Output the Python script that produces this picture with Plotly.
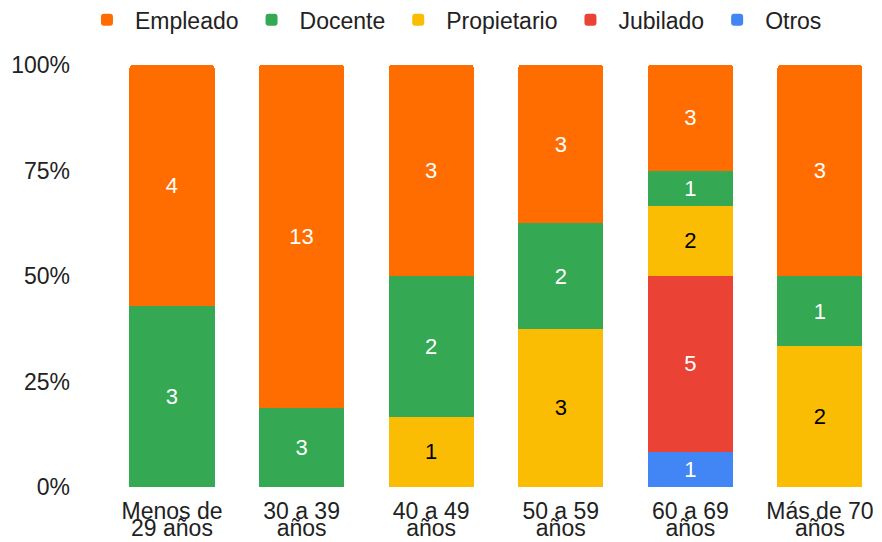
import plotly.graph_objects as go

cat_line1 = ["Menos de", "30 a 39", "40 a 49", "50 a 59", "60 a 69", "Más de 70"]
cat_line2 = ["29 años", "años", "años", "años", "años", "años"]
series_names = ["Empleado", "Docente", "Propietario", "Jubilado", "Otros"]
empleado = [4, 13, 3, 3, 3, 3]
docente = [3, 3, 2, 2, 1, 1]
propietario = [None, None, 1, 3, 2, 2]
jubilado = [None, None, None, None, 5, None]
otros = [None, None, None, None, 1, None]
y_ticks = [0, 25, 50, 75, 100]
y_ticktext = ["0%", "25%", "50%", "75%", "100%"]

colors = {"Empleado": "#FF6D01", "Docente": "#34A853", "Propietario": "#FBBC04",
          "Jubilado": "#EA4335", "Otros": "#4285F4"}
text_colors = {"Empleado": "white", "Docente": "white", "Propietario": "black",
               "Jubilado": "white", "Otros": "white"}
values = {"Empleado": empleado, "Docente": docente, "Propietario": propietario,
          "Jubilado": jubilado, "Otros": otros}

FONT = "Arial, 'Liberation Sans', sans-serif"
FS = 23
TXT = "#222222"
xs = list(range(len(cat_line1)))
xrange = [-0.5015, 5.417]

fig = go.Figure()
# stack from bottom: Otros, Jubilado, Propietario, Docente, Empleado
for name in ["Otros", "Jubilado", "Propietario", "Docente", "Empleado"]:
    v = values[name]
    fig.add_trace(go.Bar(
        x=xs, y=v, name=name,
        marker=dict(color=colors[name], line=dict(width=0)),
        text=[str(a) if a else "" for a in v],
        textposition="inside", insidetextanchor="middle", textangle=0,
        textfont=dict(color=text_colors[name], size=22, family=FONT),
        hoverinfo="skip",
        legendrank=series_names.index(name) + 1,
    ))

# invisible helper trace so the second (label line 2) axis is drawn
fig.add_trace(go.Scatter(x=xs, y=[None] * len(xs), xaxis="x2", yaxis="y",
                         showlegend=False, hoverinfo="skip", mode="markers"))

fig.update_layout(
    width=882, height=542,
    barmode="stack", barnorm="percent", bargap=0.344, barcornerradius=3,
    margin=dict(l=99, r=16, t=57, b=63, autoexpand=False),
    paper_bgcolor="white", plot_bgcolor="white",
    font=dict(family=FONT, size=FS, color=TXT),
    uniformtext=dict(minsize=10, mode="show"),
    legend=dict(orientation="h", xref="container", yref="container",
                x=0.5045, xanchor="center", y=0.978, yanchor="middle",
                font=dict(size=FS, color=TXT, family=FONT), traceorder="normal",
                itemwidth=46, itemclick=False),
    xaxis=dict(range=xrange, tickmode="array", tickvals=xs, ticktext=cat_line1,
               showgrid=False, zeroline=False, showline=False, ticks="",
               ticklabelstandoff=8, tickfont=dict(size=FS, color=TXT, family=FONT)),
    xaxis2=dict(range=xrange, overlaying="x", anchor="y", side="bottom",
                tickmode="array", tickvals=xs, ticktext=cat_line2,
                showgrid=False, zeroline=False, showline=False, ticks="",
                ticklabelstandoff=25, tickfont=dict(size=FS, color=TXT, family=FONT)),
    yaxis=dict(range=[0, 100], tickvals=y_ticks, ticktext=y_ticktext,
               showgrid=False, zeroline=False, showline=False, ticks="",
               ticklabelstandoff=36, tickfont=dict(size=FS, color=TXT, family=FONT)),
)

fig.write_html("out.html")
